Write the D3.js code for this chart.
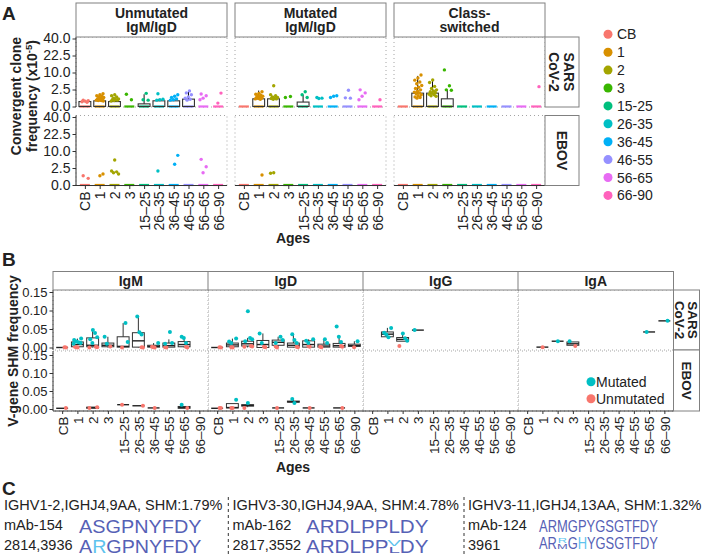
<!DOCTYPE html>
<html><head><meta charset="utf-8">
<script src="https://cdn.jsdelivr.net/npm/d3@7"></script>
<style>body{margin:0;background:#fff} svg text{font-family:"Liberation Sans",Arial,Helvetica,sans-serif}</style>
</head><body>
<svg id="c" width="702" height="557"></svg>
<script>
// ---------- shared categories ----------
const ages = ["CB","1","2","3","15–25","26–35","36–45","46–55","56–65","66–90"];
const legendAges = ["CB","1","2","3","15-25","26-35","36-45","46-55","56-65","66-90"];
const ageColors = ["#F8766D","#D89000","#A3A500","#39B600","#00BF7D","#00BFC4","#00B0F6","#9590FF","#E76BF3","#FF62BC"];

// ---------- panel A ----------
const aColumns = ["Unmutated|IgM/IgD","Mutated|IgM/IgD","Class-|switched"];
const aRows = ["SARS|CoV-2","EBOV"];
const aTicks = [0,2.5,10,22.5,40];
const aUnmSarsBar = [0.21,0.28,0.21,0,0.06,0.28,0.28,0.47,0,0];
const aUnmSarsErr = [0.3,0.45,0.35,0,1.3,0.5,0.45,2.2,0,0];
const aUnmSarsPts = [[0.35,0.3,0.25,0.2,0.15],[1.4,1.2,1.0,0.9,0.8,0.7,0.6,0.5,0.45,0.4,0.35,0.3,0.3,0.25],[1.2,1.0,0.8,0.6,0.5,0.45,0.4,0.35,0.3,0.25],[1.3,0.4],[1.5,0.4,0.35],[1.4,0.45,0.4,0.35],[1.2,0.9,0.7,0.5,0.4,0.35],[2.1,1.6,1.2,0.8,0.6,0.45,0.35],[1.35,1.0,0.6,0.4],[1.55,0.1]];
const aUnmEbovPts = [[0.74,0.38],[1.04,0.75],[5.4,1.7,1.5,1.3,1.05],[],[],[1.7],[7.6,3.7],[],[5.7,2.9,1.3],[]];
const aMutSarsBar = [0,0.51,0.51,0,0.17,0,0,0,0,0];
const aMutSarsErr = [0,2.2,0.9,0,1.2,0,0,0,0,0];
const aMutSarsPts = [[],[1.9,1.5,1.3,1.1,1.0,0.9,0.8,0.7,0.6,0.55,0.5,0.45],[3.7,1.2,1.0,0.8,0.7,0.6,0.55,0.5,0.45],[0.7,0.86],[1.9,1.2,0.7],[0.7,0.6,0.55],[1.0,0.9,0.7],[2.3,0.65,0.6],[2.4,1.6,0.9,0.4],[0.4]];
const aMutEbovPts = [[],[0.86],[1.3,1.2],[],[],[],[],[],[],[]];
const aCswSarsBar = [0,1.54,1.54,0.51,0,0,0,0,0,0];
const aCswSarsErr = [0,8.1,6.1,2.4,0,0,0,0,0,0];
const aCswSarsPts = [[],[8.6,7.0,6.0,5.2,4.5,3.8,3.2,2.8,2.4,2.0,1.8,1.6,1.4,1.2,1.0,0.8,0.7,0.6],[6.1,5.0,3.5,2.8,2.4,2.1,1.9,1.7,1.5,1.3,1.2,1.0,0.9],[11.6,3.7,2.4,2.3],[],[],[],[],[],[3.4]];
const aCswEbovPts = [[],[],[],[],[],[],[],[],[],[]];

// ---------- panel B ----------
const bColumns = ["IgM","IgD","IgG","IgA"];
const bRows = ["SARS|CoV-2","EBOV"];
const bTicks = [0,0.05,0.10,0.15];
const bGroups = ["Mutated","Unmutated"];
// boxes: [lower whisker, q1, median, q3, upper whisker]
const bIgMSarsBox = [[0,0,0,0,0],[0,0.002,0.008,0.015,0.024],[0,0.002,0.006,0.026,0.047],[0,0.002,0.006,0.012,0.029],[0,0.001,0.003,0.029,0.066],[0,0.001,0.018,0.040,0.084],[0,0.001,0.003,0.006,0.012],[0,0.001,0.005,0.012,0.022],[0,0.002,0.008,0.016,0.029],null];
const bIgMSarsMut = [[],[0.024,0.02,0.016,0.014,0.012,0.01],[0.047,0.039,0.028,0.022,0.012],[0.029,0.01],[0.066,0.015],[0.084,0.041,0.035],[0.012],[0.042,0.012,0.01],[0.029,0.026,0.012],[]];
const bIgMSarsUnm = [[0,0.001],[0,0.001,0.002],[0,0.001,0.002],[0.003],[0],[0,0.001],[0,0.001,0.002],[0,0.001],[0,0.002],[]];
const bIgDSarsBox = [[0,0,0,0,0],[0,0.002,0.007,0.012,0.024],[0,0.004,0.01,0.017,0.026],[0,0,0.008,0.019,0.038],[0,0.006,0.014,0.02,0.029],[0,0.001,0.006,0.012,0.036],[0,0.001,0.008,0.018,0.022],[0,0.001,0.004,0.009,0.022],[0,0.001,0.005,0.011,0.029],[0.003,0.003,0.005,0.009,0.017]];
const bIgDSarsMut = [[],[0.024,0.016,0.012],[0.098,0.026,0.022,0.017],[0.038,0.012],[0.029,0.02,0.012],[0.036,0.02,0.012],[0.022,0.018,0.012],[0.022,0.012],[0.057,0.029,0.015],[0.017]];
const bIgDSarsUnm = [[0,0.001],[0,0.001],[0.002,0.003,0.004],[0.001,0.002],[0,0.003],[0.001,0.002],[0.002,0.004],[0.001,0.002],[0.002,0.004],[0.001]];
const bIgGSarsBox = [null,[0.028,0.029,0.036,0.042,0.053],[0.017,0.017,0.022,0.027,0.038],[0.047,0.047,0.047,0.047,0.047],null,null,null,null,null,null];
const bIgGSarsMut = [[],[0.053,0.04,0.035,0.028],[0.038,0.025,0.018],[0.047],[],[],[],[],[],[]];
const bIgGSarsUnm = [[],[],[0.004],[],[],[],[],[],[],[]];
const bIgASarsBox = [null,[0.001,0.001,0.001,0.001,0.001],[0.017,0.017,0.017,0.017,0.017],[0.006,0.006,0.01,0.015,0.015],null,null,null,null,[0.042,0.042,0.042,0.042,0.042],[0.072,0.072,0.072,0.072,0.072]];
const bIgASarsMut = [[],[],[0.017],[0.017],[],[],[],[],[0.042],[0.072]];
const bIgASarsUnm = [[],[0.001],[],[0.004],[],[],[],[],[],[]];
const bIgMEbovBox = [[0.002,0.002,0.002,0.002,0.002],null,[0.002,0.002,0.004,0.005,0.005],null,[0.012,0.012,0.012,0.012,0.012],[0.009,0.009,0.009,0.009,0.009],[0.003,0.003,0.003,0.003,0.003],null,[0.002,0.002,0.004,0.007,0.007],null];
const bIgMEbovMut = [[],[],[],[],[],[],[],[],[0.012],[]];
const bIgMEbovUnm = [[0.003],[],[0.003,0.005],[],[0.012],[0.009],[0.003],[],[0.003],[]];
const bIgDEbovBox = [[0.002,0.002,0.002,0.002,0.002],[0.003,0.003,0.004,0.015,0.015],[0.005,0.008,0.01,0.012,0.014],null,[0.003,0.003,0.003,0.003,0.003],[0.017,0.019,0.02,0.022,0.028],[0.003,0.003,0.003,0.003,0.003],null,[0.003,0.003,0.003,0.003,0.003],null];
const bIgDEbovMut = [[],[0.026],[0.017],[],[],[0.028,0.017],[],[],[],[]];
const bIgDEbovUnm = [[0.003,0.003],[0.003,0.003],[0.003],[],[0.003],[],[0.003],[],[0.003],[]];
const bEmptyBox = [null,null,null,null,null,null,null,null,null,null];
const bEmptyPts = [[],[],[],[],[],[],[],[],[],[]];

// ---------- panel C ----------
const cHeaders = ["IGHV1-2,IGHJ4,9AA, SHM:1.79%","IGHV3-30,IGHJ4,9AA, SHM:4.78%","IGHV3-11,IGHJ4,13AA, SHM:1.32%"];
const cMabs = ["mAb-154","mAb-162","mAb-124"];
const cMabSeqs = ["ASGPNYFDY","ARDLPPLDY","ARMGPYGSGTFDY"];
const cCloneIds = ["2814,3936","2817,3552","3961"];
const cCloneSeqs = ["ARGPNYFDY","ARDLPPLDY","ARMGHYGSGTFDY"];
const cHighlights = [[1],[],[4]];
const cStacks = [[],[[6,"V"]],[[2,"R"]]];

// ======================================================
const svg = d3.select("#c");
const INK = "#222", AX = "#333", GRID = "#9a9a9a", STRIP = "#808080";
const jit = i => ((i * 0.6180339887 + 0.29) % 1) - 0.5;

function label(txt, x, y, size, weight, anchor) {
  return svg.append("text").attr("x", x).attr("y", y).attr("font-size", size)
    .attr("font-weight", weight || "normal").attr("text-anchor", anchor || "start").attr("fill", INK).text(txt);
}
function dottedBorder(g, w, h) {
  g.append("rect").attr("width", w).attr("height", h).attr("fill", "none")
    .attr("stroke", GRID).attr("stroke-width", 0.9).attr("stroke-dasharray", "1,3");
}
function colStrip(x, y, w, h, txt, size, lineGap) {
  svg.append("rect").attr("x", x).attr("y", y).attr("width", w).attr("height", h)
    .attr("fill", "#fff").attr("stroke", STRIP).attr("stroke-width", 1);
  const lines = txt.split("|");
  const cy = y + h / 2;
  lines.forEach((l, i) => {
    const off = (i - (lines.length - 1) / 2) * lineGap;
    svg.append("text").attr("x", x + w / 2).attr("y", cy + off + size * 0.36).attr("text-anchor", "middle")
      .attr("font-size", size).attr("font-weight", "bold").attr("fill", INK).text(l);
  });
}
function rowStrip(x, y, w, h, txt, size, lineGap) {
  svg.append("rect").attr("x", x).attr("y", y).attr("width", w).attr("height", h)
    .attr("fill", "#fff").attr("stroke", STRIP).attr("stroke-width", 1);
  const lines = txt.split("|");
  const g = svg.append("g").attr("transform", `translate(${x + w / 2},${y + h / 2}) rotate(90)`);
  lines.forEach((l, i) => {
    const off = (i - (lines.length - 1) / 2) * lineGap;
    g.append("text").attr("x", 0).attr("y", off + size * 0.36).attr("text-anchor", "middle")
      .attr("font-size", size).attr("font-weight", "bold").attr("fill", INK).text(l);
  });
}
function styleAxis(g, size) {
  g.select("path.domain").remove();
  g.attr("font-size", size).attr("font-family", null);
  g.selectAll(".tick line").attr("stroke", AX);
  g.selectAll(".tick text").attr("fill", INK);
}

// ---------------- PANEL A ----------------
label("A", 2, 20, 19, "bold");
const aLeft = [76, 235, 394], aW = 151, aTop = [37, 115.5], aH = 70;
const xA = d3.scalePoint().domain(ages).range([0, aW]).padding(0.6);
const yA = d3.scaleSqrt().domain([0, 40]).range([aH - 0.5, 1.5]);
const stepA = xA.step(), bwA = stepA * 0.8;
const aPanels = [
  {c:0,r:0,bar:aUnmSarsBar,err:aUnmSarsErr,pts:aUnmSarsPts},
  {c:1,r:0,bar:aMutSarsBar,err:aMutSarsErr,pts:aMutSarsPts},
  {c:2,r:0,bar:aCswSarsBar,err:aCswSarsErr,pts:aCswSarsPts},
  {c:0,r:1,bar:null,err:null,pts:aUnmEbovPts},
  {c:1,r:1,bar:null,err:null,pts:aMutEbovPts},
  {c:2,r:1,bar:null,err:null,pts:aCswEbovPts}
];
aPanels.forEach(p => {
  const g = svg.append("g").attr("transform", `translate(${aLeft[p.c]},${aTop[p.r]})`);
  dottedBorder(g, aW, aH);
  ages.forEach((a, i) => {
    g.append("line").attr("x1", xA(a) - 5).attr("x2", xA(a) + 5).attr("y1", yA(0)).attr("y2", yA(0))
      .attr("stroke", ageColors[i]).attr("stroke-width", 2.2);
  });
  if (p.bar) {
    p.bar.forEach((v, i) => {
      const cx = xA(ages[i]);
      if (p.err[i] > v) {
        g.append("line").attr("x1", cx).attr("x2", cx).attr("y1", yA(v)).attr("y2", yA(p.err[i]))
          .attr("stroke", "#111").attr("stroke-width", 1);
      }
      if (v > 0) {
        g.append("rect").attr("x", cx - bwA / 2).attr("y", yA(v)).attr("width", bwA)
          .attr("height", yA(0) - yA(v)).attr("fill", "none").attr("stroke", "#333").attr("stroke-width", 1.1);
      }
    });
  }
  p.pts.forEach((arr, i) => {
    arr.forEach((v, j) => {
      g.append("circle").attr("cx", xA(ages[i]) + jit(j + i) * stepA * 0.55).attr("cy", yA(v))
        .attr("r", 1.7).attr("fill", ageColors[i]);
    });
  });
  if (p.c === 0) {
    const ax = g.append("g").call(d3.axisLeft(yA).tickValues(aTicks).tickFormat(d3.format(".1f")).tickSize(3.5).tickPadding(2));
    styleAxis(ax, 14);
    g.append("line").attr("x1", 0).attr("x2", 0).attr("y1", 0).attr("y2", aH).attr("stroke", AX).attr("stroke-width", 1);
  }
  if (p.r === 1) {
    const ax = g.append("g").attr("transform", `translate(0,${aH})`)
      .call(d3.axisBottom(xA).tickSize(3.5).tickSizeOuter(0));
    styleAxis(ax, 14);
    ax.selectAll(".tick text").attr("transform", "rotate(-90)").attr("text-anchor", "end")
      .attr("x", -6).attr("y", 0).attr("dy", "0.36em");
    g.append("line").attr("x1", 0).attr("x2", aW).attr("y1", aH).attr("y2", aH).attr("stroke", AX).attr("stroke-width", 1);
  }
});
aColumns.forEach((t, c) => colStrip(aLeft[c], 3, aW, 34, t, 14, 14.5));
aRows.forEach((t, r) => rowStrip(aLeft[2] + aW, aTop[r], 34, aH, t, 14, 15));
label("Ages", 293, 243, 14, "bold", "middle");
{
  const g = svg.append("g").attr("transform", "translate(0,96) rotate(-90)");
  g.append("text").attr("x", 0).attr("y", 21).attr("text-anchor", "middle").attr("font-size", 14)
    .attr("font-weight", "bold").attr("fill", INK).text("Convergent clone");
  const t2 = g.append("text").attr("x", 0).attr("y", 36.5).attr("text-anchor", "middle").attr("font-size", 14)
    .attr("font-weight", "bold").attr("fill", INK);
  t2.append("tspan").text("frequency (x10");
  t2.append("tspan").attr("font-size", 9.5).attr("dy", -5).text("-5");
  t2.append("tspan").attr("dy", 5).text(")");
}
legendAges.forEach((a, i) => {
  const y = 34.3 + i * 17.9;
  svg.append("circle").attr("cx", 608).attr("cy", y).attr("r", 4.5).attr("fill", ageColors[i]);
  label(a, 617, y + 5, 14);
});

// ---------------- PANEL B ----------------
label("B", 2, 266, 19, "bold");
const bLeft = [53, 208, 363, 518], bW = 155.5, bTop = [290, 351], bH = 60;
const xB = d3.scalePoint().domain(ages).range([0, bW]).padding(0.6);
const yBRows = [d3.scaleLinear().domain([0, 0.15]).range([57.5, 2]),
                d3.scaleLinear().domain([0, 0.15]).range([58, 4])];
const stepB = xB.step(), bwB = stepB * 0.78;
const colMut = "#00BFC4", colUnm = "#F8766D";
const bPanels = [
  {c:0,r:0,box:bIgMSarsBox,mut:bIgMSarsMut,unm:bIgMSarsUnm},
  {c:1,r:0,box:bIgDSarsBox,mut:bIgDSarsMut,unm:bIgDSarsUnm},
  {c:2,r:0,box:bIgGSarsBox,mut:bIgGSarsMut,unm:bIgGSarsUnm},
  {c:3,r:0,box:bIgASarsBox,mut:bIgASarsMut,unm:bIgASarsUnm},
  {c:0,r:1,box:bIgMEbovBox,mut:bIgMEbovMut,unm:bIgMEbovUnm},
  {c:1,r:1,box:bIgDEbovBox,mut:bIgDEbovMut,unm:bIgDEbovUnm},
  {c:2,r:1,box:bEmptyBox,mut:bEmptyPts,unm:bEmptyPts},
  {c:3,r:1,box:bEmptyBox,mut:bEmptyPts,unm:bEmptyPts}
];
bPanels.forEach(p => {
  const yB = yBRows[p.r];
  const g = svg.append("g").attr("transform", `translate(${bLeft[p.c]},${bTop[p.r]})`);
  dottedBorder(g, bW, bH);
  p.box.forEach((b, i) => {
    if (!b) return;
    const cx = xB(ages[i]);
    const [lo, q1, med, q3, hi] = b;
    g.append("line").attr("x1", cx).attr("x2", cx).attr("y1", yB(lo)).attr("y2", yB(q1)).attr("stroke", "#333").attr("stroke-width", 1);
    g.append("line").attr("x1", cx).attr("x2", cx).attr("y1", yB(q3)).attr("y2", yB(hi)).attr("stroke", "#333").attr("stroke-width", 1);
    if (yB(q1) - yB(q3) > 0.2) {
      g.append("rect").attr("x", cx - bwB / 2).attr("y", yB(q3)).attr("width", bwB).attr("height", yB(q1) - yB(q3))
        .attr("fill", "none").attr("stroke", "#333").attr("stroke-width", 1);
    }
    g.append("line").attr("x1", cx - bwB / 2).attr("x2", cx + bwB / 2).attr("y1", yB(med)).attr("y2", yB(med))
      .attr("stroke", "#222").attr("stroke-width", 1.4);
  });
  p.unm.forEach((arr, i) => arr.forEach((v, j) => {
    g.append("circle").attr("cx", xB(ages[i]) + jit(j * 3 + i + 1) * stepB * 0.6).attr("cy", yB(v)).attr("r", 2).attr("fill", colUnm);
  }));
  p.mut.forEach((arr, i) => arr.forEach((v, j) => {
    g.append("circle").attr("cx", xB(ages[i]) + jit(j * 2 + i) * stepB * 0.6).attr("cy", yB(v)).attr("r", 2).attr("fill", colMut);
  }));
  if (p.c === 0) {
    const ax = g.append("g").call(d3.axisLeft(yB).tickValues(bTicks).tickFormat(d3.format(".2f")).tickSize(3.5).tickPadding(2));
    styleAxis(ax, 13);
    g.append("line").attr("x1", 0).attr("x2", 0).attr("y1", 0).attr("y2", bH).attr("stroke", AX).attr("stroke-width", 1);
  }
  if (p.r === 1) {
    const ax = g.append("g").attr("transform", `translate(0,${bH})`)
      .call(d3.axisBottom(xB).tickSize(3).tickSizeOuter(0));
    styleAxis(ax, 13.5);
    ax.selectAll(".tick text").attr("transform", "rotate(-90)").attr("text-anchor", "end")
      .attr("x", -5.5).attr("y", 0).attr("dy", "0.36em");
    g.append("line").attr("x1", 0).attr("x2", bW).attr("y1", bH).attr("y2", bH).attr("stroke", AX).attr("stroke-width", 1);
  }
});
bColumns.forEach((t, c) => colStrip(bLeft[c], 271.5, bW, 18.5, t, 14, 14));
bRows.forEach((t, r) => rowStrip(bLeft[3] + bW, bTop[r] - (r ? 1 : 0), 26, bH + (r ? 1 : 0), t, 13.5, 13));
label("Ages", 293, 472, 14, "bold", "middle");
svg.append("text").attr("transform", "translate(18,351) rotate(-90)").attr("text-anchor", "middle")
  .attr("font-size", 14).attr("font-weight", "bold").attr("fill", INK).text("V-gene SHM frequency");
[colMut, colUnm].forEach((col, i) => {
  const y = 381.7 + i * 17;
  svg.append("circle").attr("cx", 591).attr("cy", y).attr("r", 4.5).attr("fill", col);
  label(bGroups[i], 596, y + 5, 14);
});

// ---------------- PANEL C ----------------
label("C", 2, 495, 19, "bold");
const seqDark = "#5661B6", seqLight = "#5EC3EE";
const cX = [4, 232.5, 468], cSeqX = [79, 306, 539], cSeqW = [122.5, 122.5, 119], cSeqFs = [19, 19, 16];
const cSeqBase2 = [533.3, 533.3, 531.5], cSeqBase3 = [553.3, 553.3, 548.5];
[228.3, 464].forEach(x => svg.append("line").attr("x1", x).attr("x2", x).attr("y1", 497).attr("y2", 557)
  .attr("stroke", "#333").attr("stroke-width", 1).attr("stroke-dasharray", "3,3"));
function seqText(x0, baseline, str, fs, target, highlights, stacks) {
  const g = svg.append("g").attr("transform", `translate(${x0},${baseline})`);
  const m = g.append("text").attr("font-size", fs).text(str);
  const nat = m.node().getComputedTextLength();
  const pos = str.split("").map((c, i) => [m.node().getStartPositionOfChar(i).x, m.node().getEndPositionOfChar(i).x]);
  m.remove();
  const k = target / nat;
  g.attr("transform", `translate(${x0},${baseline}) scale(${k},1)`);
  const stackIdx = stacks.map(s => s[0]);
  const runs = []; let cur = null;
  str.split("").forEach((ch, i) => {
    if (stackIdx.includes(i)) { cur = null; return; }
    if (!cur) { cur = {start: i, idx: []}; runs.push(cur); }
    cur.idx.push(i);
  });
  runs.forEach(r => {
    const t = g.append("text").attr("x", pos[r.start][0]).attr("y", 0).attr("font-size", fs);
    r.idx.forEach(i => t.append("tspan").text(str[i]).attr("fill", highlights.includes(i) ? seqLight : seqDark));
  });
  const cap = fs * 0.716;
  stacks.forEach(([i, top]) => {
    const cx = (pos[i][0] + pos[i][1]) / 2;
    g.append("text").attr("font-size", fs).attr("text-anchor", "middle").attr("fill", seqDark)
      .attr("transform", `translate(${cx},0) scale(1,0.45)`).text(str[i]);
    g.append("text").attr("font-size", fs).attr("text-anchor", "middle").attr("fill", seqLight)
      .attr("transform", `translate(${cx},${-cap * 0.52}) scale(1,0.48)`).text(top);
  });
}
cHeaders.forEach((h, i) => {
  label(h, cX[i], 510, 14.5);
  label(cMabs[i], cX[i], 530, 14.5);
  label(cCloneIds[i], cX[i], 549.5, 14.5);
  seqText(cSeqX[i], cSeqBase2[i], cMabSeqs[i], cSeqFs[i], cSeqW[i], [], []);
  seqText(cSeqX[i], cSeqBase3[i], cCloneSeqs[i], cSeqFs[i], cSeqW[i], cHighlights[i], cStacks[i]);
});
</script>
</body></html>
